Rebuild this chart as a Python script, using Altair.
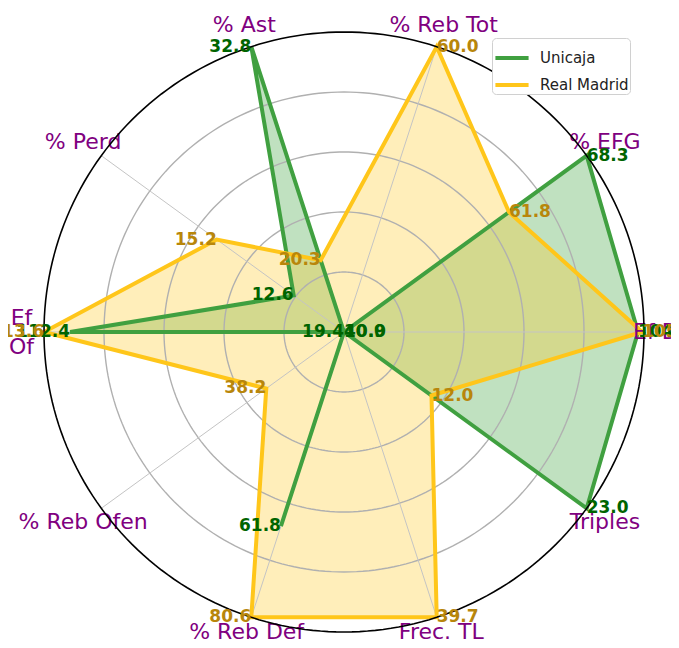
import altair as alt
import numpy as np
import pandas as pd

categories = ["Ef Def", "% EFG", "% Reb Tot", "% Ast", "% Perd", "Ef\nOf",
              "% Reb Ofen", "% Reb Def", "Frec. TL", "Triples"]
teams = ["Unicaja", "Real Madrid"]
unicaja = [104.6, 68.3, 40.0, 32.8, 12.6, 112.4, 19.4, 61.8, 10.9, 23.0]
real_madrid = [105.7, 61.8, 60.0, 20.3, 15.2, 113.6, 38.2, 80.6, 39.7, 12.0]
# per-axis radial scale bounds (value at centre, value at outer ring)
axis_low = [26.0, 48.0, 40.0, 16.1, 10.9, 99.8, 19.4, 21.85, 10.9, 5.8]
axis_high = [106.2, 68.3, 60.0, 32.8, 19.1, 113.6, 78.1, 80.6, 39.7, 23.0]
grid_levels = [0.2, 0.4, 0.6, 0.8]

line_colors = ["#40a040", "#ffc61a"]
fill_colors = ["#2e9a2e", "#ffc61a"]
text_colors = ["#006400", "#b8860b"]

n = len(categories)
angles = [i * 2 * np.pi / n for i in range(n)]

rows = []
for t, (team, vals) in enumerate(zip(teams, [unicaja, real_madrid])):
    for i, v in enumerate(vals):
        r = (v - axis_low[i]) / (axis_high[i] - axis_low[i])
        c = np.cos(angles[i])
        rows.append(dict(team=team, idx=i, label=f"{v:.1f}",
                         x=r * c, y=r * np.sin(angles[i]),
                         side="L" if c > 1e-6 else "R",
                         tcolor=text_colors[t]))
df = pd.DataFrame(rows)

ring_rows = []
for lvl in grid_levels + [1.0]:
    for k, a in enumerate(np.linspace(0, 2 * np.pi, 241)):
        ring_rows.append(dict(ring=lvl, k=k, x=lvl * np.cos(a), y=lvl * np.sin(a)))
rings = pd.DataFrame(ring_rows)

spokes = pd.DataFrame(dict(x0=[0.0] * n, y0=[0.0] * n,
                           x1=[np.cos(a) for a in angles],
                           y1=[np.sin(a) for a in angles]))

lab_r = [1.05 if np.sin(a) < -0.9 else 1.075 for a in angles]
labels = pd.DataFrame(dict(cat=categories,
                           multi=["\n" in c for c in categories],
                           x=[r * np.cos(a) for r, a in zip(lab_r, angles)],
                           y=[r * np.sin(a) for r, a in zip(lab_r, angles)]))

xs = alt.Scale(domain=[-1.12, 1.09], nice=False, zero=False)
ys = alt.Scale(domain=[-1.02667, 1.08], nice=False, zero=False)
X = lambda f="x": alt.X(f"{f}:Q", scale=xs, axis=None)
Y = lambda f="y": alt.Y(f"{f}:Q", scale=ys, axis=None)

grid = alt.Chart(rings[rings.ring < 1]).mark_line(color="#b0b0b0", strokeWidth=1.4).encode(
    x=X(), y=Y(), detail="ring:N", order="k:Q")
outer = alt.Chart(rings[rings.ring == 1]).mark_line(color="black", strokeWidth=1.6).encode(
    x=X(), y=Y(), order="k:Q")
spk = alt.Chart(spokes).mark_rule(color="#c4c4c4", strokeWidth=1).encode(
    x=X("x0"), y=Y("y0"), x2="x1:Q", y2="y1:Q")

fills = []
for team, fc in zip(teams, fill_colors):
    fills.append(alt.Chart(df[df.team == team]).mark_line(
        interpolate="linear-closed", filled=True, color=fc, opacity=0.3).encode(
        x=X(), y=Y(), order="idx:Q"))

strokes = alt.Chart(df).mark_line(interpolate="linear-closed", strokeWidth=4).encode(
    x=X(), y=Y(), order="idx:Q", detail="team:N",
    color=alt.Color("team:N", scale=alt.Scale(domain=teams, range=line_colors),
                    legend=alt.Legend(title=None, orient="none", legendX=484, legendY=30,
                                      symbolType="stroke", symbolStrokeWidth=4,
                                      symbolSize=1100, labelFontSize=15, labelFont="DejaVu Sans",
                                      labelColor="#222222", labelOffset=9, rowPadding=-2,
                                      padding=1, strokeColor="#d0d0d0", fillColor="white",
                                      cornerRadius=4)))

cat_single = alt.Chart(labels[~labels.multi]).mark_text(
    font="DejaVu Sans", fontSize=22, color="#800080", align="center",
    baseline="middle").encode(x=X(), y=Y(), text="cat:N")
cat_multi = alt.Chart(labels[labels.multi]).mark_text(
    font="DejaVu Sans", fontSize=22, color="#800080", align="center",
    baseline="middle", lineBreak="\n", lineHeight=29, dy=-14).encode(
    x=X(), y=Y(), text="cat:N")

val_layers = []
for side, al in [("L", "left"), ("R", "right")]:
    val_layers.append(alt.Chart(df[df.side == side]).mark_text(
        font="DejaVu Sans", fontSize=17, fontWeight="bold", align=al, baseline="middle").encode(
        x=X(), y=Y(), text="label:N", fill=alt.Fill("tcolor:N", scale=None)))

chart = alt.layer(*fills, grid, spk, strokes, cat_single, cat_multi, outer,
                  *val_layers).properties(
    width=663, height=632, padding=0, autosize=alt.AutoSizeParams(type="none")
).configure_view(stroke=None)

chart.save("out.html", embed_options={"renderer": "svg", "actions": False})
